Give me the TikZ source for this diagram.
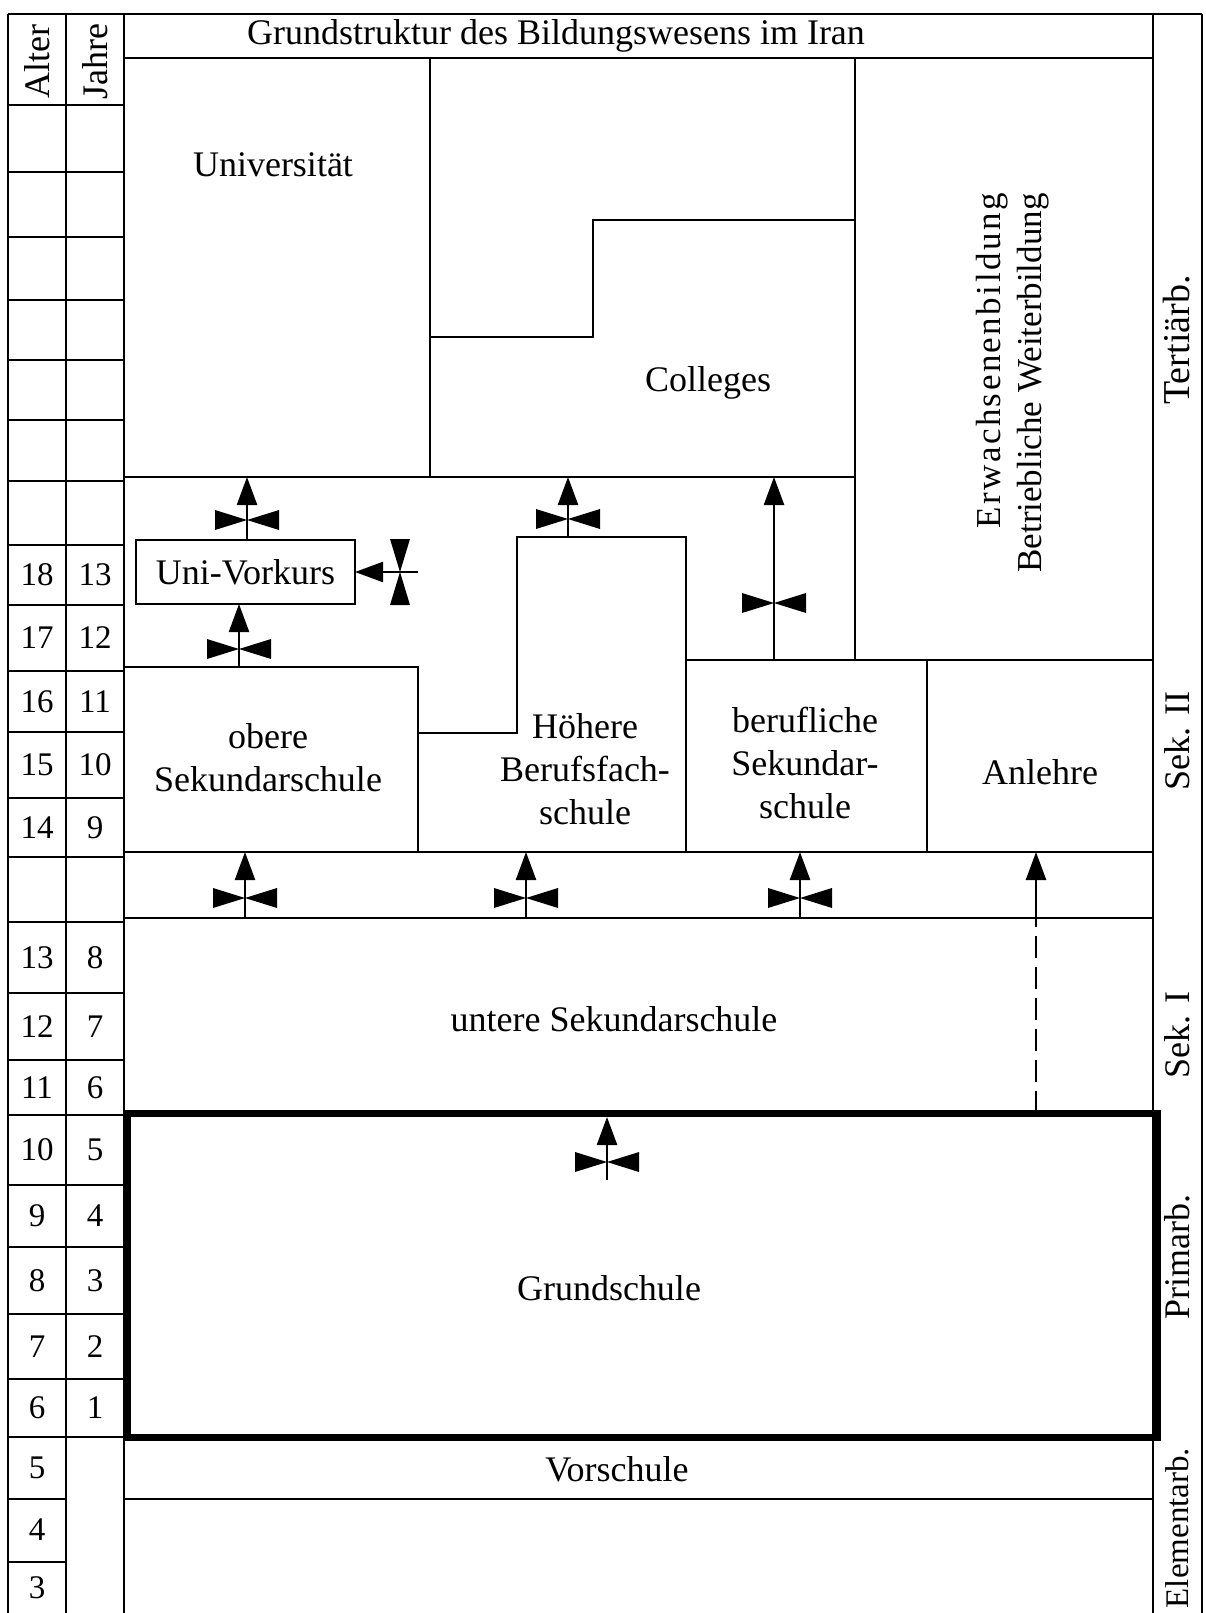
\documentclass[tikz,border=0pt]{standalone}
\usepackage{fontspec}
\setmainfont{Liberation Serif}
\usetikzlibrary{arrows.meta,calc,fit}
\begin{document}
\begin{tikzpicture}[x=1pt,y=-1pt,
  ln/.style={line width=2.6pt},
  box/.style={draw,line width=2.6pt,inner sep=0pt,outer sep=0pt},
  thickbox/.style={draw,line width=7pt,inner sep=0pt,outer sep=0pt},
  area/.style={inner sep=0pt,outer sep=0pt},
  txt/.style={font=\fontsize{36}{43}\selectfont,inner sep=0pt,align=center},
  side/.style={font=\fontsize{36}{43}\selectfont,inner sep=0pt,rotate=90},
  num/.style={font=\fontsize{33}{36}\selectfont,inner sep=0pt},
  arr/.style={line width=2.4pt,-{Triangle[width=20pt,length=28pt]}},
  dashln/.style={line width=2.4pt,dash pattern=on 22pt off 9pt},
  bowH/.pic={\fill (-32,-10) -- (0,0) -- (-32,10) -- cycle (32,-10) -- (0,0) -- (32,10) -- cycle;},
  bowV/.pic={\fill (-10,-33) -- (0,0) -- (10,-33) -- cycle (-10,33) -- (0,0) -- (10,33) -- cycle;}
]
\useasboundingbox (0,0) rectangle (1206,1613);

% outer frame and column dividers
\draw[ln] (8,14) -- (1202,14);
\draw[ln] (8,14) -- (8,1613);
\draw[ln] (66,14) -- (66,1613);
\draw[ln] (124,14) -- (124,1613);
\draw[ln] (1153,14) -- (1153,1613);
\draw[ln] (1202,14) -- (1202,1613);
\draw[ln] (124,58) -- (1153,58);

% age / year grid
\foreach \y in {105,172,237,300,360,420,481,545,605,671,732,798,857,922,993,1060,1115,1185,1247,1314,1379,1437}
  \draw[ln] (8,\y) -- (124,\y);
\foreach \y in {1499,1562}
  \draw[ln] (8,\y) -- (66,\y);

\node[txt,rotate=90] (alter) at (37,62) {Alter};
\node[txt,rotate=90] (jahre) at (95,62) {Jahre};

\foreach \a/\j/\t/\b [count=\i] in {18/13/545/605,17/12/605/671,16/11/671/732,15/10/732/798,14/9/798/857,
   13/8/922/993,12/7/993/1060,11/6/1060/1115,10/5/1115/1185,9/4/1185/1247,8/3/1247/1314,7/2/1314/1379,6/1/1379/1437}{
  \node[num] (a\i) at (37,{(\t+\b)/2}) {\a};
  \node[num] (j\i) at (95,{(\t+\b)/2}) {\j};
}
\node[num] (a14) at (37,1468) {5};
\node[num] (a15) at (37,1530) {4};
\node[num] (a16) at (37,1588) {3};

% title
\node[txt] (title) at (556,36) {Grundstruktur des Bildungswesens im Iran};

% tertiary
\node[box,fit={(124,58) (430,477)}] (uni) {};
\node[txt] (unit) at (273,165) {Universität};
\node[box,fit={(430,58) (855,477)}] (col) {};
\draw[ln] (430,337) -- (593,337) -- (593,220) -- (855,220);
\node[txt] (colt) at (708,383) {Colleges};
\node[box,fit={(855,58) (1153,660)}] (erw) {};
\node[txt,rotate=90,align=right,font=\fontsize{35}{41}\selectfont] (erwt) at (1013,383)
  {{\addfontfeature{LetterSpace=7}Erwachsenenbildung}\\Betriebliche Weiterbildung};

% secondary II
\node[box,fit={(136,540) (355,604)}] (vork) {};
\node[txt] (vorkt) at (vork.center) {Uni-Vorkurs};
\node[box,fit={(124,667) (418,852)}] (obere) {};
\node[txt] (oberet) at (268,758) {obere\\Sekundarschule};
\node[area,fit={(517,537) (686,852)}] (hb) {};
\draw[ln] (obere.east |- 0,733) -- (517,733) -- (hb.north west) -- (hb.north east) -- (hb.south east);
\node[txt] (hbt) at (585,769) {Höhere\\Berufsfach-\\schule};
\node[box,fit={(686,660) (927,852)}] (beruf) {};
\node[txt] (beruft) at (805,763) {berufliche\\Sekundar-\\schule};
\node[box,fit={(927,660) (1153,852)}] (anl) {};
\node[txt] (anlt) at (1040,772) {Anlehre};

% transition band, secondary I, primary, pre-school
\node[box,fit={(124,852) (1153,918)}] (band) {};
\node[box,fit={(124,918) (1153,1113)}] (unt) {};
\node[txt] (untt) at (614,1019) {untere Sekundarschule};
\node[box,fit={(124,1437) (1153,1499)}] (vor) {};
\node[txt] (vort) at (617,1469) {Vorschule};
\node[thickbox,fit={(127,1113) (1157,1437)}] (grund) {};
\node[txt] (grundt) at (609,1288) {Grundschule};

% right-hand level labels
\node[side,font=\fontsize{38}{43}\selectfont] (s1) at (1177,340) {Tertiärb.};
\node[side] (s2) at (1177,741) {Sek. II};
\node[side] (s3) at (1177,1035) {Sek. I};
\node[side] (s4) at (1177,1257) {Primarb.};
\node[side,font=\fontsize{33}{43}\selectfont] (s5) at (1177,1528) {Elementarb.};

% arrows
\path (239,0) coordinate (c1) (247,0) coordinate (c2) (568,0) coordinate (c4)
      (774,0) coordinate (c5) (245,0) coordinate (c6) (526,0) coordinate (c7)
      (800,0) coordinate (c8) (1036,0) coordinate (c9);

\draw[arr] (c1 |- obere.north) -- (c1 |- vork.south);
\pic at (239,649) {bowH};
\draw[arr] (c2 |- vork.north) -- (c2 |- uni.south);
\pic at (247,520) {bowH};
\coordinate (vin) at (418,572);
\draw[arr] (vin) -- (vork.east |- vin);
\pic at (400,572) {bowV};
\draw[arr] (c4 |- hb.north) -- (c4 |- col.south);
\pic at (568,519) {bowH};
\draw[arr] (c5 |- beruf.north) -- (c5 |- col.south);
\pic at (774,603) {bowH};

\draw[arr] (c6 |- unt.north) -- (c6 |- obere.south);
\pic at (245,898) {bowH};
\draw[arr] (c7 |- unt.north) -- (c7 |- hb.south);
\pic at (526,898) {bowH};
\draw[arr] (c8 |- unt.north) -- (c8 |- beruf.south);
\pic at (800,898) {bowH};

\draw[dashln] (c9 |- grund.north) -- (c9 |- band.south);
\draw[arr] (c9 |- band.south) -- (c9 |- anl.south);

\coordinate (g0) at (607,1180);
\draw[arr,shorten >=4pt] (g0) -- (g0 |- grund.north);
\pic at (607,1162) {bowH};
\end{tikzpicture}
\end{document}
